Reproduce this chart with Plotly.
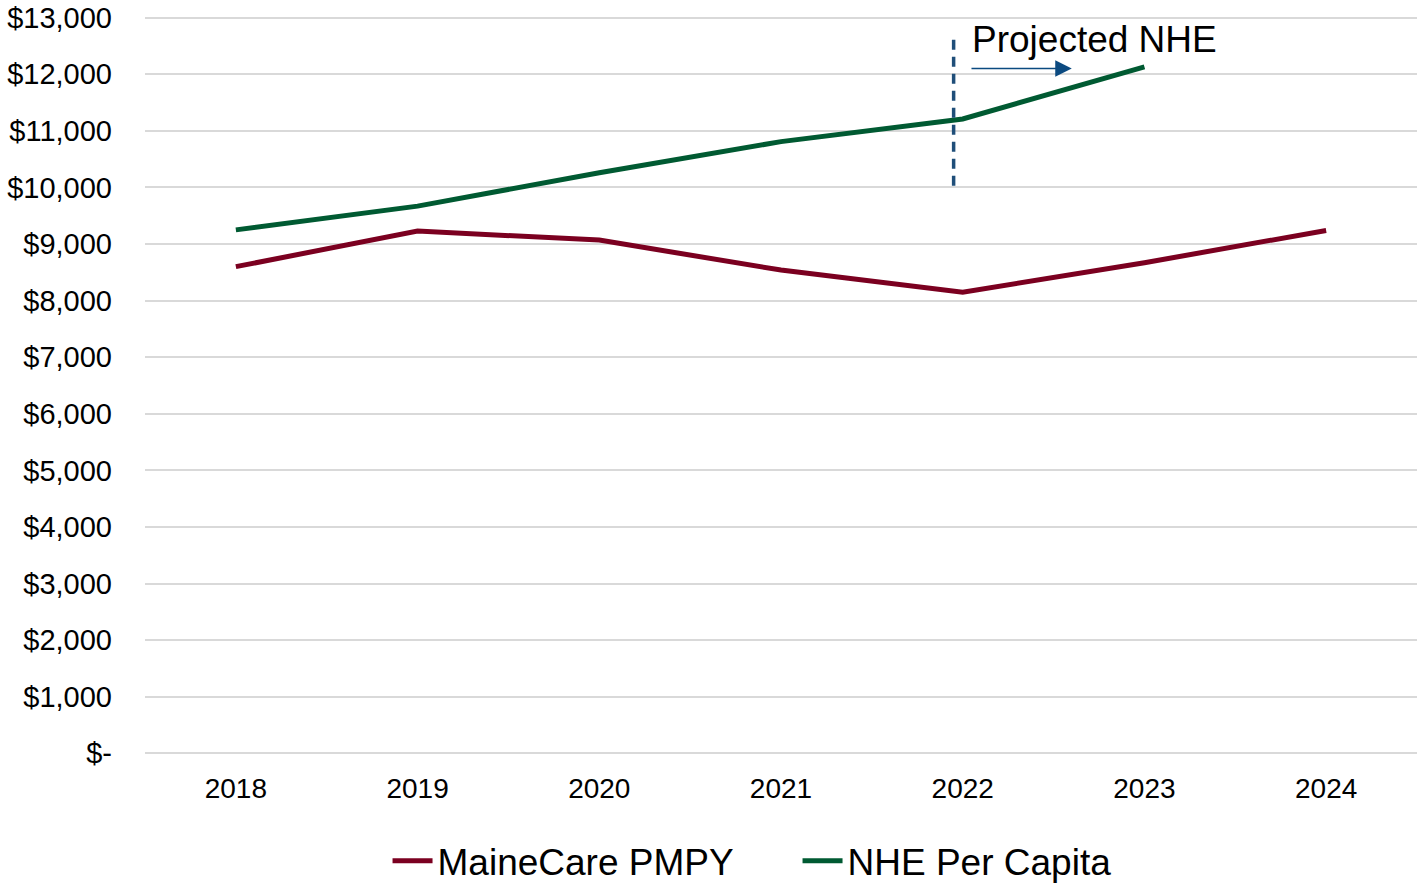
import plotly.graph_objects as go

years = ["2018", "2019", "2020", "2021", "2022", "2023", "2024"]
mainecare_pmpy = [8600, 9230, 9070, 8540, 8150, 8670, 9240]
nhe_years = ["2018", "2019", "2020", "2021", "2022", "2023"]
nhe_per_capita = [9250, 9670, 10260, 10810, 11210, 12130]

y_tickvals = list(range(0, 13001, 1000))
y_ticktext = ["$-"] + [f"${v:,}" for v in y_tickvals[1:]]

FONT = "Liberation Sans, Arial, sans-serif"

fig = go.Figure()
fig.add_trace(go.Scatter(x=years, y=mainecare_pmpy, mode="lines", name="MaineCare PMPY",
                         line=dict(color="#7b0020", width=5)))
fig.add_trace(go.Scatter(x=nhe_years, y=nhe_per_capita, mode="lines", name="NHE Per Capita",
                         line=dict(color="#005a32", width=5)))

# projection divider
fig.add_shape(type="line", xref="x", yref="y", x0=3.95, x1=3.95, y0=10030, y1=12650,
              line=dict(color="#1f4e79", width=3.5, dash="10px,7px"))
# arrow
fig.add_annotation(x=4.6, y=12100, ax=4.04, ay=12100, xref="x", yref="y", axref="x", ayref="y",
                   text="", showarrow=True, arrowhead=2, arrowsize=2.2, arrowwidth=1.5,
                   arrowcolor="#0b4a80")
fig.add_annotation(x=4.04, y=12610, xref="x", yref="y", text="Projected NHE", showarrow=False,
                   xanchor="left", yanchor="middle", font=dict(size=37, color="#000000", family=FONT))

fig.update_layout(
    width=1417, height=885,
    margin=dict(l=145, r=0, t=16, b=130, autoexpand=False),
    plot_bgcolor="white", paper_bgcolor="white",
    font=dict(family=FONT, color="#000000"),
    showlegend=True,
    legend=dict(orientation="h", x=0.513, xanchor="center", yref="container", y=0.027,
                yanchor="middle", font=dict(size=37, family=FONT), itemwidth=40, entrywidth=355),
    xaxis=dict(type="category", range=[-0.5, 6.5], showgrid=False, showline=False, zeroline=False,
               tickfont=dict(size=28, family=FONT), ticks="", ticklabelstandoff=14),
    yaxis=dict(range=[-30, 13030], tickvals=y_tickvals, ticktext=y_ticktext, showgrid=True,
               gridcolor="#d9d9d9", gridwidth=2, zeroline=False, showline=False,
               tickfont=dict(size=29, family=FONT), ticks="", ticklabelstandoff=32),
)

fig.write_html("out.html", config={"displayModeBar": False},
               post_script="document.body.style.margin='0';document.body.style.padding='0';")
